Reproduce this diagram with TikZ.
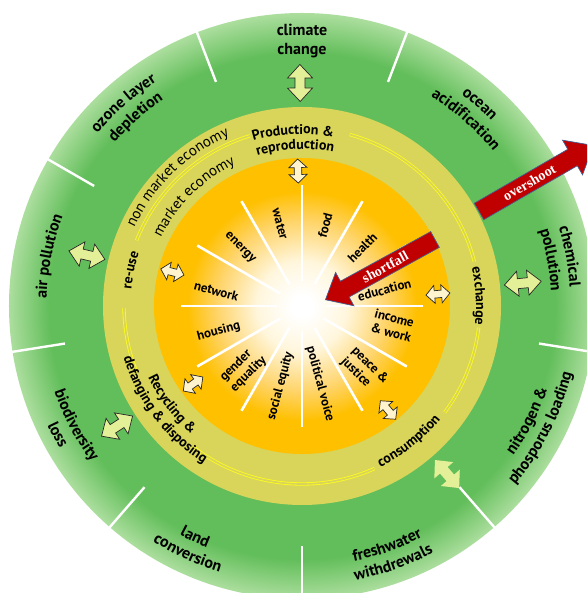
\documentclass[tikz,border=0pt]{standalone}
\usepackage{fontspec}
\setmainfont{PT Sans}
\newfontfamily\alarmfamily{Liberation Serif}
\usetikzlibrary{decorations.text}

\definecolor{ringgreen}{RGB}{98,190,90}
\definecolor{ringedge}{RGB}{172,222,158}
\definecolor{khaki}{RGB}{217,213,90}
\definecolor{sunorange}{RGB}{255,192,0}
\definecolor{sunmid}{RGB}{255,212,105}
\definecolor{sunpale}{RGB}{255,246,220}
\definecolor{flowyellow}{RGB}{255,252,30}
\definecolor{bigarrowfill}{RGB}{228,240,152}
\definecolor{smallarrowfill}{RGB}{255,244,206}
\definecolor{alarmred}{RGB}{192,0,0}
\definecolor{alarmedge}{RGB}{70,95,145}

% radial shadings: 25bp is the rim of the shaded circle
% ecological ceiling: flat green with a paler rim
\pgfdeclareradialshading{ceilingshade}{\pgfpoint{0bp}{0bp}}{%
  color(0bp)=(ringgreen); color(21.6bp)=(ringgreen); color(25bp)=(ringedge); color(50bp)=(ringedge)}
% social foundation: white core fading out to orange
\pgfdeclareradialshading{foundationshade}{\pgfpoint{0bp}{0bp}}{%
  color(0bp)=(white); color(1.8bp)=(white); color(7.6bp)=(sunpale);
  color(14.4bp)=(sunmid); color(19.4bp)=(sunorange); color(50bp)=(sunorange)}

\newcommand\ceilingfont{\fontsize{16}{19}\selectfont\bfseries}
\newcommand\economyfont{\fontsize{14}{15}\selectfont\bfseries}
\newcommand\marketfont{\fontsize{15}{17}\selectfont}
\newcommand\needfont{\fontsize{13}{15}\selectfont\bfseries}

% text along a circle of radius #1 centred on angle #2:
% \cwtext reads clockwise (tops outward), \ccwtext reads anticlockwise (tops inward)
\newcommand\cwtext[3]{\path[decorate,decoration={text along path,text align=center,text={#3}}]
  ({#2+45}:#1pt) arc[start angle={#2+45},end angle={#2-45},radius=#1pt];}
\newcommand\ccwtext[3]{\path[decorate,decoration={text along path,text align=center,text={#3}}]
  ({#2-45}:#1pt) arc[start angle={#2-45},end angle={#2+45},radius=#1pt];}

\begin{document}
\begin{tikzpicture}[x=1pt,y=1pt,
  flowline/.style={draw=flowyellow,line width=0.8pt,double=khaki,double distance=1.7pt},
  spoke/.style={white,line width=2.6pt},
  divider/.style={white,line width=2.4pt},
  bigflowstyle/.style={fill=bigarrowfill,draw=black!85,line width=0.7pt},
  smallflowstyle/.style={fill=smallarrowfill,draw=black!85,line width=0.7pt},
  alarm/.style={fill=alarmred,draw=alarmedge,line width=0.7pt},
  alarmtext/.style={text=white,font=\alarmfamily\fontsize{14}{16}\selectfont\bfseries,inner sep=0pt},
  needlabel/.style={font=\needfont,align=left,inner sep=0pt},
  ceilinglabel/.style={font=\ceilingfont,align=center,inner sep=0pt},
  pics/bigflow/.style={code={\path[pic actions] (-18.5,0) -- (-5,12.5) -- (-5,5) -- (5,5)
      -- (5,12.5) -- (18.5,0) -- (5,-12.5) -- (5,-5) -- (-5,-5) -- (-5,-12.5) -- cycle;}},
  pics/smallflow/.style={code={\path[pic actions] (-12,0) -- (-3.5,9) -- (-3.5,3.7) -- (3.5,3.7)
      -- (3.5,9) -- (12,0) -- (3.5,-9) -- (3.5,-3.7) -- (-3.5,-3.7) -- (-3.5,-9) -- cycle;}}
]
\useasboundingbox (-302,-287) rectangle (285,306);
\clip (-302,-287) rectangle (285,306);
\fill[white] (-302,-287) rectangle (285,306);

% rings
\shade[shading=ceilingshade] (0,0) circle[radius=293pt];
\foreach \a in {30,69,111,150,189,229,270,311,351}
  \draw[divider] (\a:240pt) -- (\a:297pt);
\fill[khaki] (0,0) circle[radius=199pt];
\shade[shading=foundationshade] (0,0) circle[radius=148pt];
\foreach \a in {0,30,...,330}
  \draw[spoke] (\a:25pt) -- (\a:121pt);

% flows of the economy
\draw[flowline] (107:178pt) arc[start angle=107,end angle=158.4,radius=178pt];
\draw[flowline] (14.4:178pt) arc[start angle=14.4,end angle=74.5,radius=178pt];
\draw[flowline] (-36.7:178pt) arc[start angle=-36.7,end angle=-7,radius=178pt];
\draw[flowline] (232:178pt) arc[start angle=232,end angle=294,radius=178pt];
\draw[flowline] (180.7:178pt) arc[start angle=180.7,end angle=201.9,radius=178pt];

% ecological ceiling labels
\node[ceilinglabel] (climate) at (90:264.5) {climate\\change};
\cwtext{265}{48.7}{|\ceilingfont|ocean}
\cwtext{246}{48.7}{|\ceilingfont|acidification}
\cwtext{268.5}{10.5}{|\ceilingfont|chemical}
\cwtext{249.5}{10.5}{|\ceilingfont|pollution}
\ccwtext{259}{-27}{|\ceilingfont|nitrogen {\&}}
\ccwtext{278}{-27}{|\ceilingfont|phosporus loading}
\ccwtext{260.5}{-70.5}{|\ceilingfont|freshwater}
\ccwtext{279.5}{-70.5}{|\ceilingfont|withdrewals}
\ccwtext{259.5}{-114.8}{|\ceilingfont|land}
\ccwtext{278.5}{-114.8}{|\ceilingfont|conversion}
\ccwtext{262}{207.8}{|\ceilingfont|biodiversity}
\ccwtext{281}{207.8}{|\ceilingfont|loss}
\cwtext{255.5}{168.9}{|\ceilingfont|air pollution}
\cwtext{267.5}{131.4}{|\ceilingfont|ozone layer}
\cwtext{248.5}{131.4}{|\ceilingfont|depletion}

% economy labels
\cwtext{172}{93}{|\economyfont|Production {\&}}
\cwtext{157}{92.5}{|\economyfont|reproduction}
\cwtext{171.5}{168.2}{|\economyfont|re-use}
\cwtext{174}{3.2}{|\economyfont|exchange}
\ccwtext{179}{-51.7}{|\economyfont|consumption}
\ccwtext{169.5}{217}{|\economyfont|Recycling {\&}}
\ccwtext{185.5}{217}{|\economyfont|defanging {\&} disposing}
\cwtext{185}{134}{|\marketfont|non market economy}
\cwtext{156.5}{134.7}{|\marketfont|market economy}

% social foundation labels
\node[needlabel,rotate=-75] (water) at (105:85) {water};
\node[needlabel,rotate=75] (food) at (74:84) {food};
\node[needlabel,rotate=45] (health) at (44:84) {health};
\node[needlabel,rotate=15] (education) at (11:84) {education};
\node[needlabel,rotate=-15] (income) at (-12:93) {income\\\& work};
\node[needlabel,rotate=-45] (peace) at (-46:90) {peace \&\\justice};
\node[needlabel,rotate=-75] (voice) at (-77:80) {political voice};
\node[needlabel,rotate=75] (equity) at (255:83) {social equity};
\node[needlabel,rotate=45] (gender) at (227:86) {gender\\equality};
\node[needlabel,rotate=15] (housing) at (197:87) {housing};
\node[needlabel,rotate=-15] (network) at (170:87) {network};
\node[needlabel,rotate=-45] (energy) at (137:85) {energy};

% exchanges with the living world
\pic[bigflowstyle,rotate=90.5] (flowclimate) at (90.5:223) {bigflow};
\pic[bigflowstyle,rotate=5.9] (flowchem) at (5.9:222) {bigflow};
\pic[fill=bigarrowfill,rotate=-49.2] (flowwater) at (-49.2:222) {bigflow};
\pic[bigflowstyle,rotate=166.7] (flowair) at (166.7:221) {bigflow};
\pic[bigflowstyle,rotate=213] (flowbio) at (213:220.5) {bigflow};

% exchanges with households
\pic[smallflowstyle,rotate=91.7] (hhtop) at (91.7:135) {smallflow};
\pic[smallflowstyle,rotate=5] (hhright) at (5:136.5) {smallflow};
\pic[smallflowstyle,rotate=-50.4] (hhlowright) at (-50.4:135) {smallflow};
\pic[smallflowstyle,rotate=215.6] (hhlowleft) at (215.6:134) {smallflow};
\pic[smallflowstyle,rotate=165.3] (hhleft) at (165.3:134) {smallflow};

% overshoot
\begin{scope}[shift={(177,94.5)},rotate=30]
  \path[alarm] (0,9.5) -- (108,9.5) -- (108,20) -- (132,0) -- (108,-20) -- (108,-9.5) -- (0,-9.5) -- cycle;
  \node[alarmtext,transform shape] (overshoot) at (58,0) {overshoot};
\end{scope}

% shortfall
\begin{scope}[shift={(133,66.5)},rotate=208.8]
  \path[alarm] (0,9) -- (103,9) -- (103,19) -- (125,0) -- (103,-19) -- (103,-9) -- (0,-9) -- cycle;
  \node[alarmtext,transform shape,rotate=180] (shortfall) at (57,0) {shortfall};
\end{scope}
\end{tikzpicture}
\end{document}
